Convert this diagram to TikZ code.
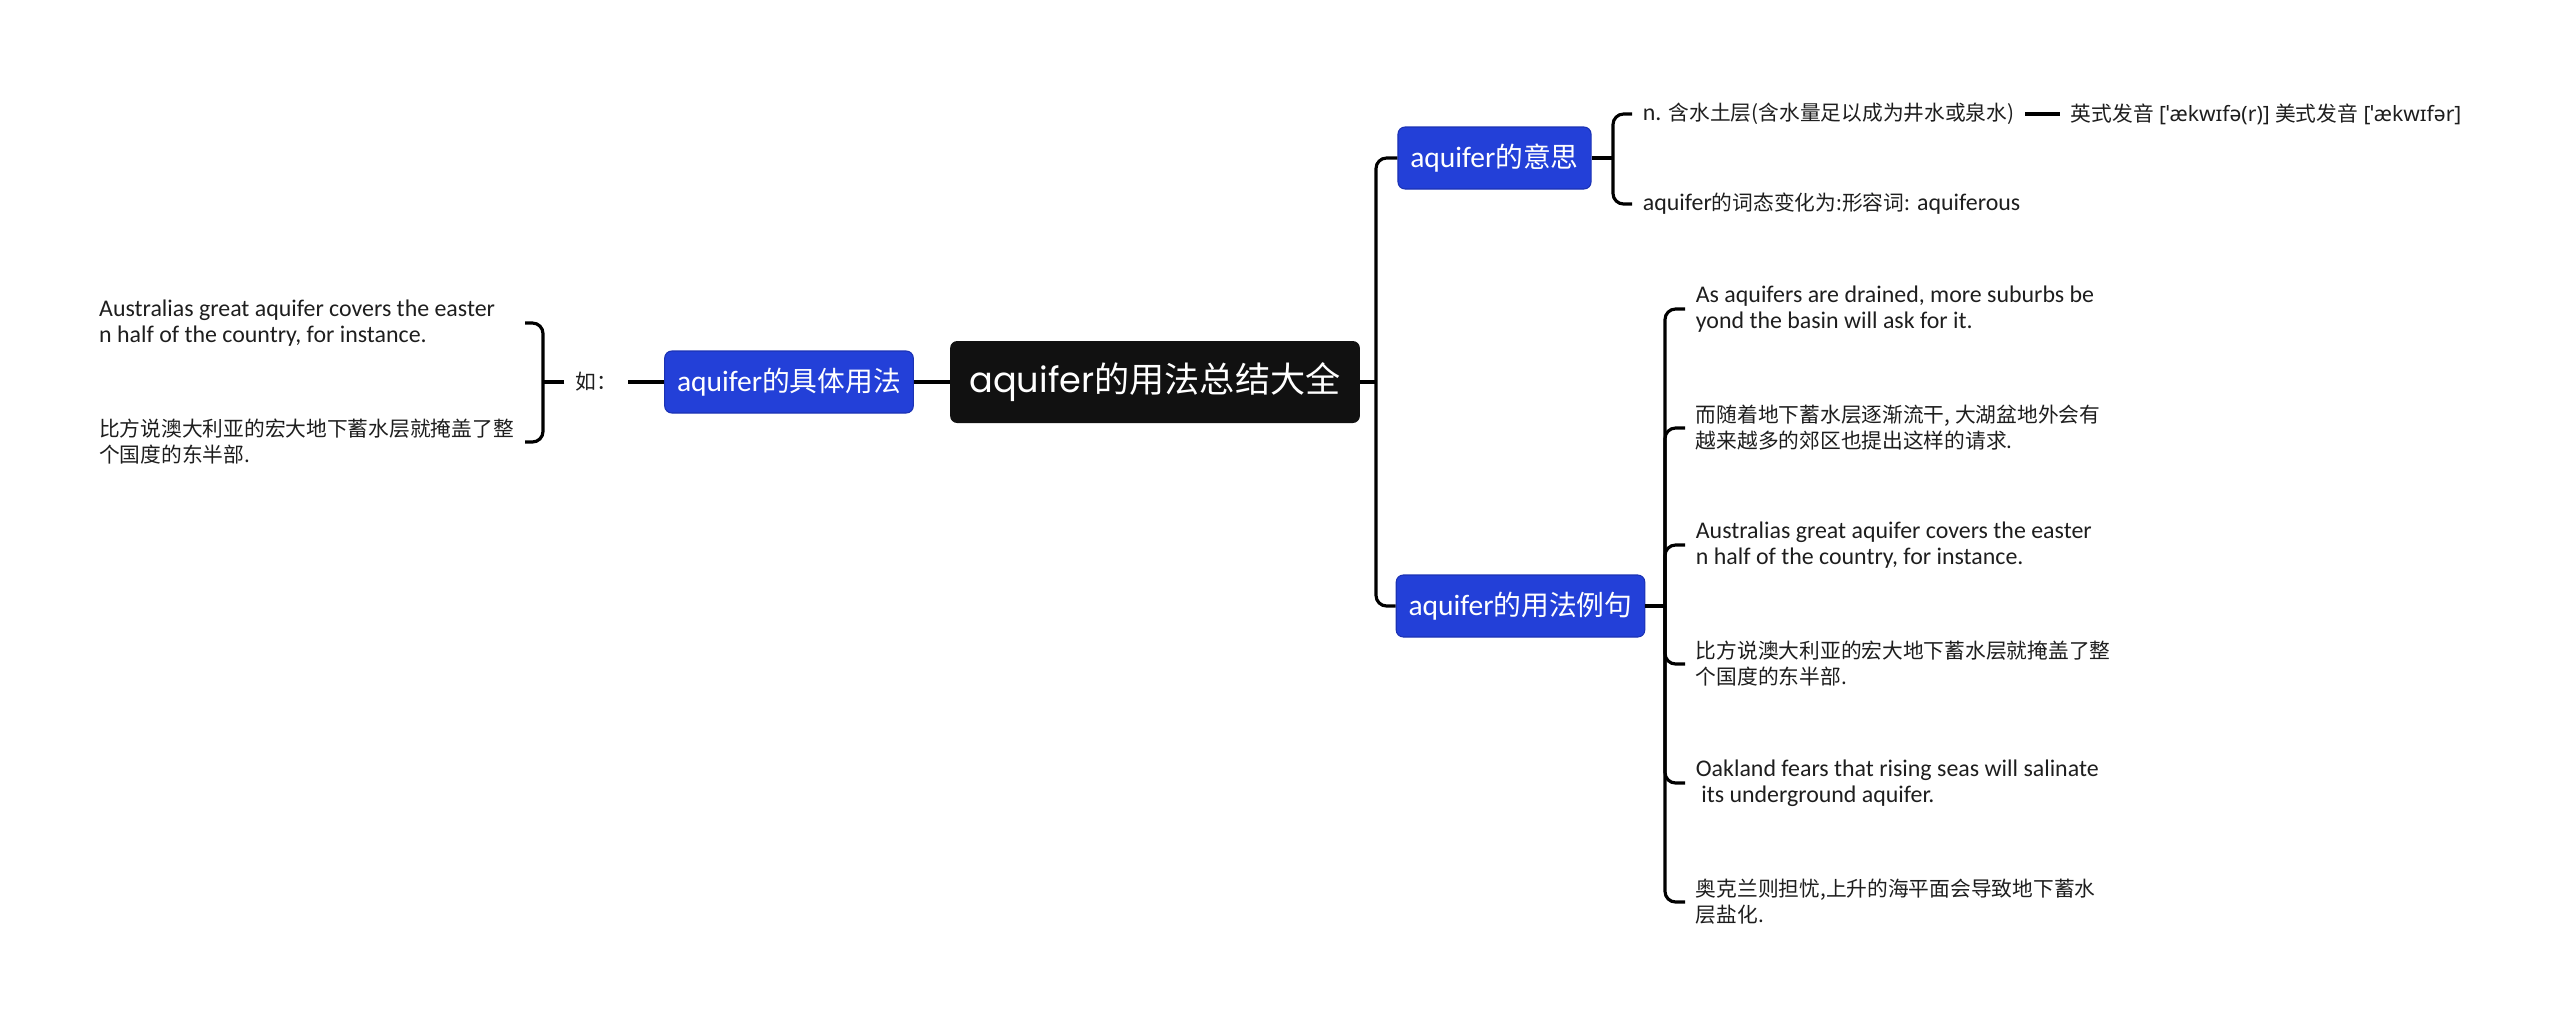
\documentclass[tikz,border=0pt]{standalone}
\usepackage{fontspec}
\setmainfont{Carlito}
\newfontfamily\cjk{Noto Sans CJK SC}
\newfontfamily\ipa{Noto Sans}
\newfontfamily\rootfont{Poppins}
\usepackage{xcolor}
\definecolor{rootFill}{RGB}{17, 17, 17}
\definecolor{topicFill}{RGB}{35, 64, 216}
\definecolor{topicLine}{RGB}{27, 50, 180}
\definecolor{leafText}{RGB}{30, 30, 30}
\newcommand{\zhleaf}{\fontsize{11.8}{14.8}\selectfont\cjk}
\newcommand{\zhtopic}{\fontsize{15.8}{19}\selectfont\cjk}
\newcommand{\zhroot}{\fontsize{20}{24}\selectfont\cjk}

\begin{document}
\begin{tikzpicture}[x=0.02cm, y=-0.02cm,
  link/.style={line width=1.8pt, rounded corners=6pt},
  rootbox/.style={fill=rootFill, text=white, rounded corners=4pt,
    minimum height=1.64cm, inner xsep=11pt, font={\fontsize{20}{24}\selectfont\rootfont}},
  topic/.style={fill=topicFill, draw=topicLine, line width=0.6pt, text=white,
    rounded corners=4pt, minimum height=1.24cm, inner xsep=7pt,
    font={\fontsize{16.8}{19}\selectfont}},
  leaf/.style={text=leafText, align=flush left, inner xsep=6pt, inner ysep=2pt,
    font={\fontsize{13.6}{14.8}\selectfont}},
  leafcjk/.style={leaf, font=\zhleaf}]
  \useasboundingbox (0,0) rectangle (2560,1029);

  % Root
  \node[rootbox] (root) at (1155,382) {aquifer{\zhroot 的用法总结大全}};

  % Main topics
  \node[topic] (mean) at (1494.5,158) {aquifer{\zhtopic 的意思}};
  \node[topic] (usage) at (1520.5,606) {aquifer{\zhtopic 的用法例句}};
  \node[topic] (concrete) at (789,382) {aquifer{\zhtopic 的具体用法}};

  % Meaning
  \node[leaf, anchor=west] (mn1) at (1632,114) {n. {\zhleaf 含水土层(含水量足以成为井水或泉水)}};
  \node[leaf, anchor=west] (mn2) at (1632,204) {aquifer{\zhleaf 的词态变化为:形容词:} aquiferous};
  \node[leaf, anchor=west] (phon) at (2060,114)
    {{\zhleaf 英式发音} {\ipa\fontsize{12}{14.8}\selectfont [ˈækwɪfə(r)]} {\zhleaf 美式发音} {\ipa\fontsize{12}{14.8}\selectfont [ˈækwɪfər]}};

  % Example sentences
  \node[leaf, anchor=west] (ex1) at (1685,309) {As aquifers are drained, more suburbs be\\yond the basin will ask for it.};
  \node[leafcjk, anchor=west] (ex2) at (1685,428) {而随着地下蓄水层逐渐流干, 大湖盆地外会有\\越来越多的郊区也提出这样的请求.};
  \node[leaf, anchor=west] (ex3) at (1685,545) {Australias great aquifer covers the easter\\n half of the country, for instance.};
  \node[leafcjk, anchor=west] (ex4) at (1685,664) {比方说澳大利亚的宏大地下蓄水层就掩盖了整\\个国度的东半部.};
  \node[leaf, anchor=west] (ex5) at (1685,783) {Oakland fears that rising seas will salinate\\\ its underground aquifer.};
  \node[leafcjk, anchor=west] (ex6) at (1685,902) {奥克兰则担忧,上升的海平面会导致地下蓄水\\层盐化.};

  % Concrete usage
  \node[leafcjk] (ru) at (596,382) {如：};
  \node[leaf, anchor=east, text width=8.3cm] (lt1) at (525,323) {Australias great aquifer covers the easter\\n half of the country, for instance.};
  \node[leafcjk, anchor=east, text width=8.3cm] (lt2) at (525,442) {比方说澳大利亚的宏大地下蓄水层就掩盖了整\\个国度的东半部.};

  % Branch points
  \coordinate (rtrunk) at (1376,382);
  \coordinate (mbr) at (1613,158);
  \coordinate (ubr) at (1665,606);
  \coordinate (lbr) at (543,382);

  % Connectors
  \draw[link] (root.east) -- (rtrunk);
  \draw[link] (mean.west) -| (rtrunk) |- (usage.west);
  \draw[link] (root.west) -- (concrete.east);

  \draw[link] (mean.east) -- (mbr);
  \draw[link] (mn1.west) -| (mbr) |- (mn2.west);
  \draw[link] (mn1.east) -- (phon.west);

  \draw[link] (usage.east) -- (ubr);
  \draw[link] (ex1.west) -| (ubr) |- (ex6.west);
  \foreach \c in {ex2, ex3, ex4, ex5}
    \draw[link] (ubr) |- (\c.west);

  \draw[link] (concrete.west) -- (ru.east);
  \draw[link] (ru.west) -- (lbr);
  \draw[link] (lt1.east) -| (lbr) |- (lt2.east);
\end{tikzpicture}
\end{document}
